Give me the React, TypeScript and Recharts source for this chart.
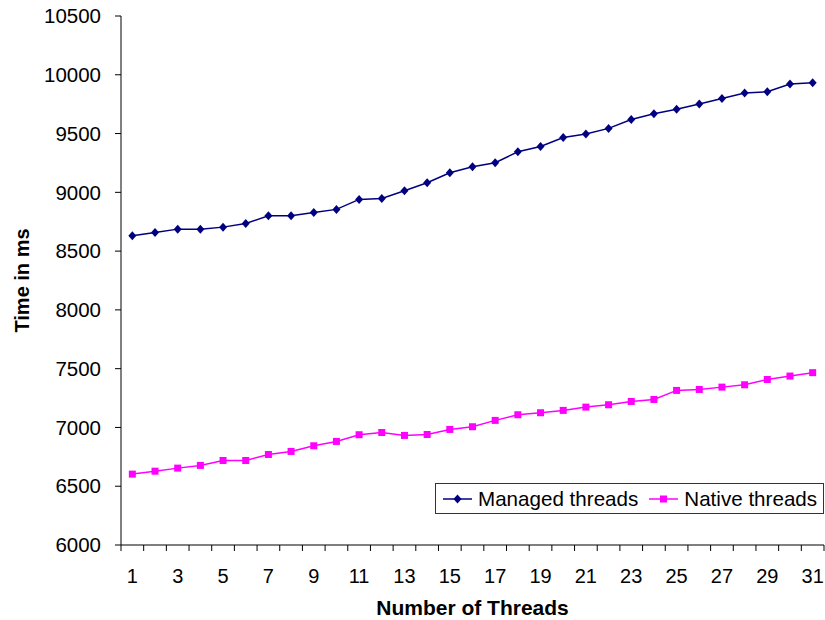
import React from "react";
import { LineChart, Line, XAxis, YAxis, Legend } from "recharts";

const threads = [
  1, 2, 3, 4, 5, 6, 7, 8, 9, 10, 11, 12, 13, 14, 15, 16, 17, 18, 19, 20, 21, 22,
  23, 24, 25, 26, 27, 28, 29, 30, 31,
];
const managedMs = [
  8630, 8659, 8687, 8687, 8704, 8735, 8800, 8800, 8829, 8855, 8940, 8948, 9013,
  9081, 9166, 9218, 9252, 9345, 9390, 9467, 9496, 9544, 9620, 9669, 9706, 9751,
  9799, 9845, 9856, 9921, 9932,
];
const nativeMs = [
  6603, 6628, 6654, 6677, 6719, 6719, 6770, 6796, 6844, 6881, 6938, 6957, 6932,
  6940, 6983, 7006, 7060, 7108, 7125, 7145, 7173, 7193, 7221, 7238, 7315, 7323,
  7343, 7363, 7408, 7437, 7466,
];
const yTicks = [6000, 6500, 7000, 7500, 8000, 8500, 9000, 9500, 10000, 10500];

const FONT = "Arial, 'Liberation Sans', sans-serif";
const NAVY = "#000080";
const MAGENTA = "#FF00FF";

const data = threads.map((t, i) => ({
  thread: t,
  managed: managedMs[i],
  native: nativeMs[i],
}));

// tick marks sit between categories (Excel style), labels on odd threads
const boundaries = [...threads.map((t) => t - 0.5), threads[threads.length - 1] + 0.5];
const xTicks = [...boundaries, ...threads.filter((t) => t % 2 === 1)].sort((a, b) => a - b);

function Diamond({ cx, cy, color }: any) {
  return (
    <polygon
      points={`${cx},${cy - 4.5} ${cx + 4},${cy} ${cx},${cy + 4.5} ${cx - 4},${cy}`}
      fill={color}
    />
  );
}

function Square({ cx, cy, color }: any) {
  return <rect x={cx - 3.5} y={cy - 3.5} width={7} height={7} fill={color} />;
}

function ThreadTick({ x, y, payload }: any) {
  const v = payload.value;
  if (!Number.isInteger(v)) {
    return <line x1={x} x2={x} y1={y} y2={y + 6} stroke="#000" strokeWidth={1} />;
  }
  if (v % 2 === 0) return <g />;
  return (
    <text x={x} y={y + 38} textAnchor="middle" fontSize={20} fontFamily={FONT} fill="#000">
      {v}
    </text>
  );
}

function LegendBox() {
  const items = [
    { name: "Managed threads", color: NAVY, shape: "diamond" },
    { name: "Native threads", color: MAGENTA, shape: "square" },
  ];
  return (
    <div
      style={{
        border: "1px solid #333",
        background: "#fff",
        height: 29,
        width: 387,
        display: "flex",
        alignItems: "center",
        fontFamily: FONT,
        fontSize: 20.6,
        color: "#000",
        boxSizing: "content-box",
      }}
    >
      {items.map((it, i) => (
        <div
          key={it.name}
          style={{ display: "flex", alignItems: "center", marginLeft: i === 0 ? 7 : 11 }}
        >
          <svg width={29} height={12} style={{ marginRight: 6 }}>
            <line x1={0} x2={29} y1={6} y2={6} stroke={it.color} strokeWidth={1.5} />
            {it.shape === "diamond" ? (
              <Diamond cx={14.5} cy={6} color={it.color} />
            ) : (
              <Square cx={14.5} cy={6} color={it.color} />
            )}
          </svg>
          <span style={{ whiteSpace: "nowrap" }}>{it.name}</span>
        </div>
      ))}
    </div>
  );
}

export default function App() {
  return (
    <div style={{ position: "absolute", left: 0, top: 0, background: "#fff" }}>
      <LineChart
        width={825}
        height={620}
        data={data}
        margin={{ top: 16, right: 1, bottom: 0, left: 0 }}
      >
        <XAxis
          dataKey="thread"
          type="number"
          domain={[0.5, 31.5]}
          ticks={xTicks}
          interval={0}
          tickLine={false}
          tickSize={0}
          tickMargin={0}
          tick={<ThreadTick />}
          height={75}
          axisLine={{ stroke: "#000", strokeWidth: 1 }}
          label={{
            content: ({ viewBox }: any) => (
              <text
                x={viewBox.x + viewBox.width / 2}
                y={viewBox.y + 70}
                textAnchor="middle"
                fontSize={21}
                fontWeight="bold"
                fontFamily={FONT}
                fill="#000"
              >
                Number of Threads
              </text>
            ),
          }}
        />
        <YAxis
          type="number"
          domain={[6000, 10500]}
          ticks={yTicks}
          interval={0}
          width={121}
          tickSize={6}
          tickMargin={14}
          tick={{ fontSize: 20.5, fontFamily: FONT, fill: "#000" }}
          tickLine={{ stroke: "#000" }}
          axisLine={{ stroke: "#000", strokeWidth: 1 }}
          label={{
            content: ({ viewBox }: any) => {
              const cy = viewBox.y + viewBox.height / 2;
              return (
                <text
                  x={22}
                  y={cy}
                  transform={`rotate(-90, 22, ${cy})`}
                  textAnchor="middle"
                  dominantBaseline="central"
                  fontSize={20}
                  fontWeight="bold"
                  fontFamily={FONT}
                  fill="#000"
                >
                  Time in ms
                </text>
              );
            },
          }}
        />
        <Legend
          layout="horizontal"
          verticalAlign="middle"
          align="center"
          wrapperStyle={{ position: "absolute", left: 435, top: 483, width: "auto" }}
          content={() => <LegendBox />}
        />
        <Line
          type="linear"
          dataKey="managed"
          name="Managed threads"
          stroke={NAVY}
          strokeWidth={1.5}
          isAnimationActive={false}
          activeDot={false}
          dot={(p: any) => <Diamond key={`m-${p.index}`} cx={p.cx} cy={p.cy} color={NAVY} />}
        />
        <Line
          type="linear"
          dataKey="native"
          name="Native threads"
          stroke={MAGENTA}
          strokeWidth={1.5}
          isAnimationActive={false}
          activeDot={false}
          dot={(p: any) => <Square key={`n-${p.index}`} cx={p.cx} cy={p.cy} color={MAGENTA} />}
        />
      </LineChart>
    </div>
  );
}
